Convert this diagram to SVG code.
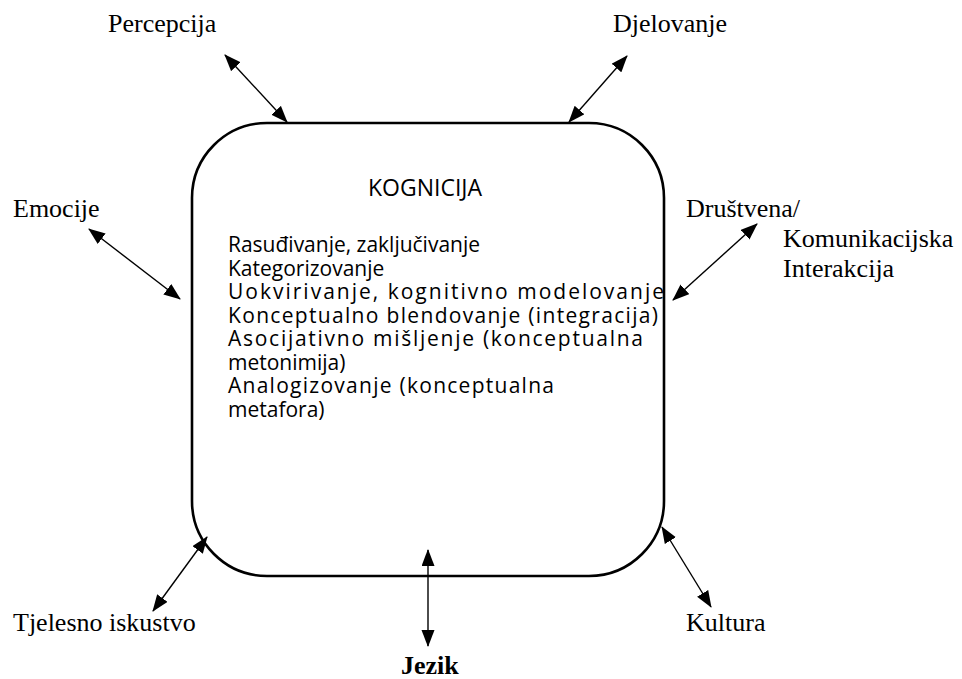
<svg xmlns="http://www.w3.org/2000/svg" width="962" height="679" viewBox="0 0 962 679">
<style>
.lbl{font-family:"Liberation Serif","Times New Roman",serif;font-size:26px;fill:#000}
.bold{font-weight:bold}
.in{font-family:"Open Sans","Liberation Sans",sans-serif;font-size:21px;fill:#000}
.ttl{font-family:"Open Sans","Liberation Sans",sans-serif;font-size:23px;fill:#000}
.conn line{stroke:#000;stroke-width:1.4;marker-start:url(#ah);marker-end:url(#ah)}
</style>
<defs>
<marker id="ah" markerUnits="userSpaceOnUse" markerWidth="18" markerHeight="14" refX="16" refY="6.5" orient="auto-start-reverse">
<path d="M0,0 L17,6.5 L0,13 z" fill="#000"/>
</marker>
</defs>
<rect width="962" height="679" fill="#fff"/>
<g id="kognicija">
<rect x="192" y="123" width="472" height="453" rx="75" ry="75" fill="#fff" stroke="#000" stroke-width="2.6"/>
<text class="ttl" x="425" y="196" text-anchor="middle">KOGNICIJA</text>
<text class="in" x="228" y="252" textLength="252" lengthAdjust="spacing">Rasuđivanje, zaključivanje</text>
<text class="in" x="228" y="276">Kategorizovanje</text>
<text class="in" x="228" y="299" textLength="436" lengthAdjust="spacing">Uokvirivanje, kognitivno modelovanje</text>
<text class="in" x="228" y="323" textLength="430" lengthAdjust="spacing">Konceptualno blendovanje (integracija)</text>
<text class="in" x="228" y="346" textLength="415" lengthAdjust="spacing">Asocijativno mišljenje (konceptualna</text>
<text class="in" x="228" y="370">metonimija)</text>
<text class="in" x="228" y="393" textLength="326" lengthAdjust="spacing">Analogizovanje (konceptualna</text>
<text class="in" x="228" y="417">metafora)</text>
</g>
<g id="percepcija"><text class="lbl" x="108" y="32">Percepcija</text></g>
<g id="djelovanje"><text class="lbl" x="613" y="32">Djelovanje</text></g>
<g id="emocije"><text class="lbl" x="13" y="217">Emocije</text></g>
<g id="drustvena"><text class="lbl" x="686" y="217">Društvena/</text><text class="lbl" x="783" y="247">Komunikacijska</text><text class="lbl" x="783" y="277">Interakcija</text></g>
<g id="tjelesno"><text class="lbl" x="13" y="631">Tjelesno iskustvo</text></g>
<g id="kultura"><text class="lbl" x="686" y="631">Kultura</text></g>
<g id="jezik"><text class="lbl bold" x="401" y="674">Jezik</text></g>
<g id="connectors" class="conn">
<line x1="225" y1="55" x2="287" y2="122"/>
<line x1="627" y1="56" x2="569" y2="122"/>
<line x1="89" y1="229" x2="180" y2="299"/>
<line x1="757" y1="224" x2="673" y2="300"/>
<line x1="207" y1="537" x2="153" y2="611"/>
<line x1="662" y1="527" x2="711" y2="607"/>
<line x1="428" y1="550" x2="428" y2="646"/>
</g>
</svg>
